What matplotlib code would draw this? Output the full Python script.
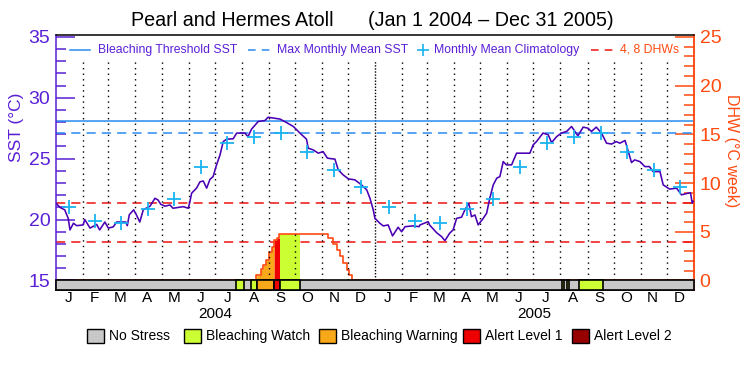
import numpy as np
import matplotlib
matplotlib.use("Agg")
import matplotlib.pyplot as plt
from matplotlib.lines import Line2D
from matplotlib.patches import Rectangle

# ---------------- data ----------------
# SST time series (day index from Jan 1 2004, SST in degC)
sst_days = [0, 4.6, 10, 14, 16, 20, 23.7, 31, 33, 39, 46.6, 50, 56, 60, 65.6, 69.5, 80, 81.7, 84, 89,
            92, 96, 100, 107.7, 113.4, 117, 120, 125, 130.6, 134, 145.8, 151.6, 153.5, 155.4, 161, 165,
            168.7, 172.6, 176.4, 180, 184, 187.9, 191.6, 195.5, 203, 207, 216.5, 220, 224, 231.7, 239.4,
            243, 249, 256.6, 264, 272, 279.5, 287, 289, 294.7, 300.5, 306, 311, 319.6, 323.4, 329, 335,
            342.5, 350, 356, 359.7, 363.5, 365.4, 371, 375, 380.6, 385.6, 392, 396, 400, 409, 416, 417,
            426.5, 428, 436, 441.8, 445.6, 451, 455, 459, 464.7, 468.5, 473, 476, 480, 483.7, 489.5,
            493.4, 497, 501, 505, 508.6, 512.4, 516, 522, 527.7, 543, 546.7, 550.5, 558, 564, 567.8,
            573.5, 579, 585, 590.7, 598, 604, 609.6, 613.5, 619, 625, 630.8, 636.6, 642, 646, 652,
            659.4, 663, 669, 674.7, 680, 684, 692, 695.7, 703, 711, 716.7, 724.4, 727, 729, 730]
sst_vals = [21.34, 21.0, 20.8, 20.1, 19.15, 19.7, 19.5, 19.56, 20.0, 19.3, 19.6, 19.15, 19.8, 19.3, 19.4,
            19.8, 19.8, 19.5, 20.4, 20.8, 20.4, 19.8, 20.8, 21.1, 21.75, 21.6, 21.26, 21.1, 21.2, 20.93,
            21.06, 20.93, 21.5, 22.17, 22.58, 23.1, 23.17, 22.58, 23.3, 23.53, 24.5, 25.3, 26.4, 26.6,
            26.63, 27.1, 27.1, 26.8, 27.42, 28.05, 28.13, 28.4, 28.33, 28.25, 27.97, 27.64, 27.1, 26.6,
            25.86, 25.72, 25.45, 25.58, 25.04, 24.96, 24.08, 23.67, 23.34, 23.26, 22.85, 22.44, 21.75,
            20.8, 20.1, 19.7, 19.48, 19.56, 18.66, 19.37, 19.0, 19.42, 19.48, 19.42, 19.56, 19.83, 19.56,
            18.93, 18.6, 18.27, 18.88, 19.15, 20.1, 20.2, 20.8, 21.34, 20.24, 20.38, 19.56, 20.1, 20.52,
            21.75, 22.85, 23.4, 23.53, 24.76, 24.49, 24.49, 25.45, 25.45, 26.13, 26.4, 27.1, 26.96,
            26.32, 26.8, 27.1, 27.23, 27.64, 26.87, 27.59, 27.5, 27.23, 27.59, 27.1, 26.27, 26.2, 26.4,
            26.27, 26.49, 24.68, 24.9, 24.76, 24.35, 24.35, 23.94, 23.94, 22.85, 22.5, 22.58, 22.03,
            22.17, 22.2, 21.34, 21.5]

# Monthly mean climatology (mid-month days for two years)
clim_days = [15, 45, 74, 105, 135, 166, 196, 227, 258, 288, 319, 349,
             381, 411, 440, 471, 501, 532, 562, 593, 624, 654, 685, 715]
clim_vals = [21.0, 19.9, 19.7, 20.9, 21.7, 24.35, 26.25, 26.75, 27.1, 25.55, 24.1, 22.65,
             21.0, 19.9, 19.7, 20.9, 21.7, 24.35, 26.25, 26.75, 27.1, 25.55, 24.1, 22.65]

mmm_sst = 27.1
threshold_sst = 28.1
dhw_levels = [4, 8]

# Degree heating weeks (step curve)
dhw_days = [0, 229, 234.5, 237.5, 240.5, 244, 247, 249.7, 252.8, 255.8, 311.9, 317.6, 321.5,
            325.3, 329.1, 333, 335.6, 338.7, 731]
dhw_vals = [0, 0.56, 1.15, 1.59, 2.1, 2.9, 3.47, 4.16, 4.33, 4.74, 4.33, 3.75, 3.13,
            2.55, 1.77, 1.08, 0.56, 0, 0]

# Stress level periods (day start, day end, level: 1 watch, 2 warning, 3 alert1, 4 alert2)
stress_start = [206, 223, 230, 250, 257, 580, 585, 599]
stress_end = [215, 230, 250, 257, 279, 582, 588, 627]
stress_level = [1, 1, 2, 3, 1, 1, 1, 1]

month_labels = ["J", "F", "M", "A", "M", "J", "J", "A", "S", "O", "N", "D"] * 2
year_labels = ["2004", "2005"]
legend_stress = ["No Stress", "Bleaching Watch", "Bleaching Warning", "Alert Level 1", "Alert Level 2"]

# ---------------- styling ----------------
PURPLE = "#5a1fd6"
LINEPURP = "#4b00b4"
BLUE = "#2a8cf0"
CYAN = "#19b4f0"
RED = "#ee1111"
ORANGE_RED = "#ff4a10"
stress_colors = ["#c8c8c8", "#ccff33", "#f9a81a", "#ee0000", "#960000"]
plt.rcParams["font.family"] = ["Liberation Sans", "DejaVu Sans"]

W, H = 750, 375
fig = plt.figure(figsize=(7.5, 3.75), dpi=100)
L, R, T, B = 56, 694, 35, 290
ax = fig.add_axes([L / W, 1 - B / H, (R - L) / W, (B - T) / H])

ymin_sst, ymax_sst = 14.22, 35.15
ax.set_xlim(0, 731)
ax.set_ylim(ymin_sst, ymax_sst)
ax2 = ax.twinx()
ax2.set_ylim((ymin_sst - 15) * 1.25, (ymax_sst - 15) * 1.25)
ax2.set_xlim(0, 731)

# month boundaries
days_in_month = [31, 29, 31, 30, 31, 30, 31, 31, 30, 31, 30, 31,
                 31, 28, 31, 30, 31, 30, 31, 31, 30, 31, 30, 31]
bounds = np.concatenate([[0], np.cumsum(days_in_month)])
for bnd in bounds[1:-1]:
    dash = (1, 1.2) if bnd == 366 else (1, 3)
    ax.plot([bnd, bnd], [15, 33.0], color="black", lw=1, linestyle=(0, dash), zorder=1)

# reference lines
ax.axhline(threshold_sst, color=BLUE, lw=1.1, zorder=2)
ax.axhline(mmm_sst, color=BLUE, lw=1.1, linestyle=(0, (6, 4)), zorder=2)
for lv in dhw_levels:
    ax2.axhline(lv, color=RED, lw=1.1, linestyle=(0, (6, 4)), zorder=2)

# DHW fill coloured by stress
grid = np.arange(0, 731.01, 0.1)
idx = np.searchsorted(dhw_days, grid, side="right") - 1
dhw_step = np.array(dhw_vals)[np.clip(idx, 0, len(dhw_vals) - 1)]
for s, e, lev in zip(stress_start, stress_end, stress_level):
    m = (grid >= s) & (grid <= e)
    ax2.fill_between(grid[m], 0, dhw_step[m], color=stress_colors[lev], lw=0, zorder=3)
ax2.step(dhw_days, dhw_vals, where="post", color=ORANGE_RED, lw=1.2, zorder=4)

# SST line & climatology
ax.set_zorder(ax2.get_zorder() + 1)
ax.patch.set_visible(False)
ax.plot(sst_days, sst_vals, color=LINEPURP, lw=1.15, zorder=5)
ax.plot(clim_days, clim_vals, linestyle="none", marker="+", ms=10, mew=1.3, color=CYAN, zorder=6)

# status bar
bar_h = 15 - ymin_sst
ax.add_patch(Rectangle((0, ymin_sst), 731, bar_h, facecolor=stress_colors[0],
                       edgecolor="black", lw=1.2, zorder=7, clip_on=False))
for s, e, lev in zip(stress_start, stress_end, stress_level):
    ax.add_patch(Rectangle((s, ymin_sst), e - s, bar_h, facecolor=stress_colors[lev],
                           edgecolor="black", lw=1.2, zorder=8, clip_on=False))

# axes ticks
ax.set_xticks([])
ax.set_yticks([15, 20, 25, 30, 35])
ax.set_yticks(np.arange(15, 36, 1), minor=True)
ax.tick_params(axis="y", which="major", direction="in", length=14, width=1.1, color=PURPLE,
               labelcolor=PURPLE, labelsize=14, pad=4)
ax.tick_params(axis="y", which="minor", direction="in", length=7, width=1.1, color=PURPLE)
ax2.set_yticks([0, 5, 10, 15, 20, 25])
ax2.set_yticks(np.arange(0, 26, 1), minor=True)
ax2.tick_params(axis="y", which="major", direction="in", length=14, width=1.1, color=ORANGE_RED,
                labelcolor=ORANGE_RED, labelsize=14, pad=4)
ax2.tick_params(axis="y", which="minor", direction="in", length=7, width=1.1, color=ORANGE_RED)
for sp in ["top", "bottom"]:
    ax.spines[sp].set_color("black")
    ax2.spines[sp].set_visible(False)
ax.spines["left"].set_color(PURPLE)
ax.spines["right"].set_color(ORANGE_RED)
ax2.spines["left"].set_visible(False)
ax2.spines["right"].set_color(ORANGE_RED)
for sp in ax.spines.values():
    sp.set_linewidth(1.1)
for sp in ax2.spines.values():
    sp.set_linewidth(1.1)

# month & year labels
mids = (bounds[:-1] + bounds[1:]) / 2
for m, lab in zip(mids, month_labels):
    ax.text(m - 1.5, -0.033, lab, transform=ax.get_xaxis_transform(), ha="center", va="center",
            fontsize=11, color="black")
ax.text(bounds[12] / 2, -0.096, year_labels[0], transform=ax.get_xaxis_transform(),
        ha="center", va="center", fontsize=11)
ax.text((bounds[12] + bounds[24]) / 2, -0.096, year_labels[1], transform=ax.get_xaxis_transform(),
        ha="center", va="center", fontsize=11)

# title & axis labels
fig.text(131 / W, 1 - 21 / H, "Pearl and Hermes Atoll", ha="left", va="center", fontsize=14.2)
fig.text(368 / W, 1 - 21 / H, "(Jan 1 2004 \u2013 Dec 31 2005)", ha="left", va="center", fontsize=14.2)
fig.text(17 / W, 1 - 127 / H, "SST (\u00b0C)", rotation=90, ha="center", va="center",
         fontsize=12.5, color=PURPLE)
fig.text(732 / W, 1 - 151 / H, "DHW (\u00b0C week)", rotation=-90, ha="center", va="center",
         fontsize=11.5, color=ORANGE_RED)

# top legend (figure pixel coords)
def fx(x):
    return x / W

def fy(y):
    return 1 - y / H

ly = 50
fs_leg = 8.8
fig.add_artist(Line2D([fx(70), fx(90)], [fy(ly), fy(ly)], color=BLUE, lw=1.1))
fig.text(fx(98), fy(ly), "Bleaching Threshold SST", color=PURPLE, fontsize=fs_leg, va="center")
fig.add_artist(Line2D([fx(248), fx(270)], [fy(ly), fy(ly)], color=BLUE, lw=1.1,
                      linestyle=(0, (5, 4))))
fig.text(fx(277), fy(ly), "Max Monthly Mean SST", color=PURPLE, fontsize=fs_leg, va="center")
fig.add_artist(Line2D([fx(423)], [fy(ly)], color=CYAN, marker="+", ms=8, mew=1.2, linestyle="none"))
fig.text(fx(434), fy(ly), "Monthly Mean Climatology", color=PURPLE, fontsize=fs_leg, va="center")
fig.add_artist(Line2D([fx(591), fx(613)], [fy(ly), fy(ly)], color=RED, lw=1.1,
                      linestyle=(0, (5, 4))))
fig.text(fx(620), fy(ly), "4, 8 DHWs", color=ORANGE_RED, fontsize=fs_leg, va="center")

# stress legend
box_x = [87, 184, 319, 463, 572]
for bx, lab, col in zip(box_x, legend_stress, stress_colors):
    fig.add_artist(Rectangle((fx(bx), fy(343)), 17 / W, 14 / H, facecolor=col,
                             edgecolor="black", lw=1.0, transform=fig.transFigure))
    fig.text(fx(bx + 22), fy(336), lab, fontsize=10, va="center", ha="left")

fig.savefig("out.png", dpi=100)
